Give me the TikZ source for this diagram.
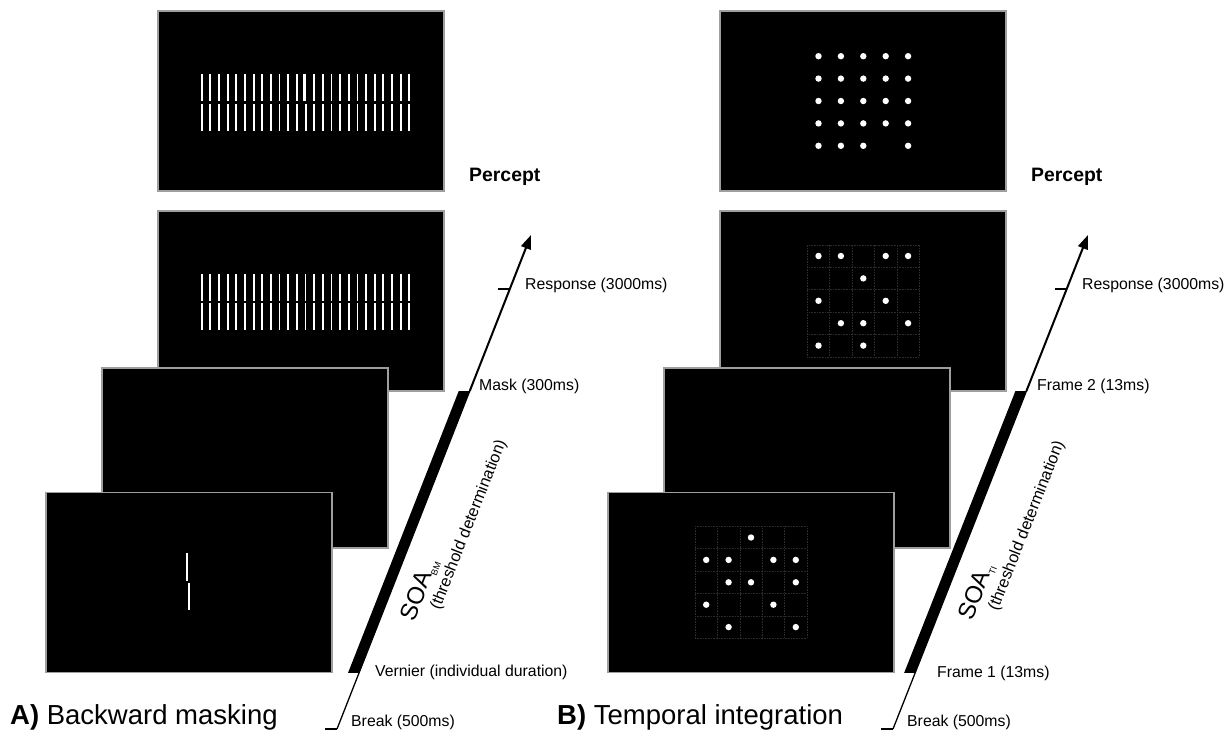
\documentclass[tikz,border=0pt]{standalone}
\usepackage{fontspec}
\setmainfont{Liberation Sans}
\usetikzlibrary{arrows.meta,calc}

\tikzset{
  screen/.style={draw=black!38, line width=1.4pt, fill=black,
    minimum width=286pt, minimum height=180pt, inner sep=0pt, outer sep=0pt},
  grate/.style={draw=white, line width=1.8pt},
  cellline/.style={draw=white!17!black, line width=0.6pt, dash pattern=on 0.7pt off 0.9pt},
  lbl/.style={anchor=west, inner sep=0pt, font=\fontsize{15.8}{18}\selectfont},
  perc/.style={anchor=west, inner sep=0pt, font=\fontsize{19.4}{22}\selectfont\bfseries},
  ttl/.style={anchor=west, inner sep=0pt, font=\fontsize{27.5}{32}\selectfont},
  soa/.style={inner sep=0pt, rotate=68.46, font=\fontsize{24}{28}\selectfont},
  soanote/.style={inner sep=0pt, rotate=68.46, font=\fontsize{16.3}{19}\selectfont},
  timeaxis/.style={line width=1.3pt},
  timehead/.style={line width=2pt, -{Triangle[length=14pt,width=10pt]}},
  tickmark/.style={line width=1.8pt},
}

% dot at grid cell (col,row) of a 5x5 array centred on (cx,cy)
\newcommand{\cellspot}[4]{\fill[white] ({#1+(#3-3)*22.4},{#2+(#4-3)*22.4}) circle (3.2);}
% dotted 5x5 cell lines centred on (cx,cy)
\newcommand{\cellgrid}[2]{%
  \foreach \k in {0,...,5}{%
    \draw[cellline] ({#1-56+22.4*\k},{#2-56}) -- ({#1-56+22.4*\k},{#2+56});
    \draw[cellline] ({#1-56},{#2-56+22.4*\k}) -- ({#1+56},{#2-56+22.4*\k});
  }}

\begin{document}
\begin{tikzpicture}[x=1pt,y=-1pt]
\useasboundingbox (0,0) rectangle (1227,734);

% ================= A) Backward masking =================
\node[screen] (sA1) at (301,101) {};
\foreach \i in {0,...,24}{
  \ifnum\i=12\relax\else
    \draw[grate] ({201.7+8.65*\i},74) -- ++(0,27) ({201.7+8.65*\i},104) -- ++(0,27);
  \fi
}
\draw[grate, line width=2.5pt] (304.4,74) -- ++(0,27);
\draw[grate, line width=2.5pt] (306,104) -- ++(0,27);

\node[screen] (sA2) at (301,301) {};
\foreach \i in {0,...,24}{
  \draw[grate] ({201.7+8.65*\i},274) -- ++(0,27) ({201.7+8.65*\i},303) -- ++(0,27);
}
\node[screen] (sA3) at (245,458) {};
\node[screen] (sA4) at (189,582.5) {};
\draw[grate] (187,553.3) -- (187,580.7);
\draw[grate] (189.3,582.7) -- (189.3,610);

% time axis
\coordinate (tA0) at (337,729);
\coordinate (tA1) at (531,235);
\coordinate (vA) at ($(tA0)!0.1134!(tA1)$);
\coordinate (mA) at ($(tA0)!0.6842!(tA1)$);
\coordinate (rA) at ($(tA0)!0.8907!(tA1)$);
\fill (mA) -- ++(-11,0) -- ($(vA)+(-11,0)$) -- (vA) -- cycle;
\draw[timeaxis] (tA0) -- (mA);
\draw[timehead] (mA) -- (tA1);
\draw[tickmark] (rA) -- ++(-12,0);
\draw[timeaxis] (tA0) -- ++(-12,0);

\node[perc] (pA) at (469,177) {Percept};
\node[lbl] (respA) at (525,285) {Response (3000ms)};
\node[lbl] (maskA) at (479,386) {Mask (300ms)};
\node[lbl] (vernA) at (375,672) {Vernier (individual duration)};
\node[lbl] (brkA) at (351,722) {Break (500ms)};
\node[soa] (soaA) at (420,590) {SOA\raisebox{-0.3ex}{\fontsize{9}{10}\selectfont BM}};
\node[soanote] (soaAn) at (469,525) {(threshold determination)};
\node[ttl] (ttlA) at (10,717) {\textbf{A)} Backward masking};

% ================= B) Temporal integration =================
\node[screen] (sB1) at (863,101) {};
\foreach \r in {1,...,4}{\foreach \c in {1,...,5}{\cellspot{863.3}{101}{\c}{\r}}}
\foreach \c in {1,2,3,5}{\cellspot{863.3}{101}{\c}{5}}

\node[screen] (sB2) at (863,301) {};
\cellgrid{863.3}{300.8}
\foreach \c/\r in {1/1,2/1,4/1,5/1,3/2,1/3,4/3,2/4,3/4,5/4,1/5,3/5}{\cellspot{863.3}{300.8}{\c}{\r}}

\node[screen] (sB3) at (807,458) {};
\node[screen] (sB4) at (751,582.5) {};
\cellgrid{751}{582.3}
\foreach \c/\r in {3/1,1/2,2/2,4/2,5/2,2/3,3/3,5/3,1/4,4/4,2/5,5/5}{\cellspot{751}{582.3}{\c}{\r}}

% time axis
\coordinate (tB0) at (893,729);
\coordinate (tB1) at (1088,235);
\coordinate (vB) at ($(tB0)!0.1134!(tB1)$);
\coordinate (mB) at ($(tB0)!0.6842!(tB1)$);
\coordinate (rB) at ($(tB0)!0.8907!(tB1)$);
\fill (mB) -- ++(-11,0) -- ($(vB)+(-11,0)$) -- (vB) -- cycle;
\draw[timeaxis] (tB0) -- (mB);
\draw[timehead] (mB) -- (tB1);
\draw[tickmark] (rB) -- ++(-12,0);
\draw[timeaxis] (tB0) -- ++(-12,0);

\node[perc] (pB) at (1031,177) {Percept};
\node[lbl] (respB) at (1082,285) {Response (3000ms)};
\node[lbl] (fr2B) at (1037,386) {Frame 2 (13ms)};
\node[lbl] (fr1B) at (937,673) {Frame 1 (13ms)};
\node[lbl] (brkB) at (907,722) {Break (500ms)};
\node[soa] (soaB) at (977,592) {SOA\raisebox{-0.3ex}{\fontsize{9}{10}\selectfont TI}};
\node[soanote] (soaBn) at (1027,526) {(threshold determination)};
\node[ttl] (ttlB) at (557,717) {\textbf{B)} Temporal integration};
\end{tikzpicture}
\end{document}
